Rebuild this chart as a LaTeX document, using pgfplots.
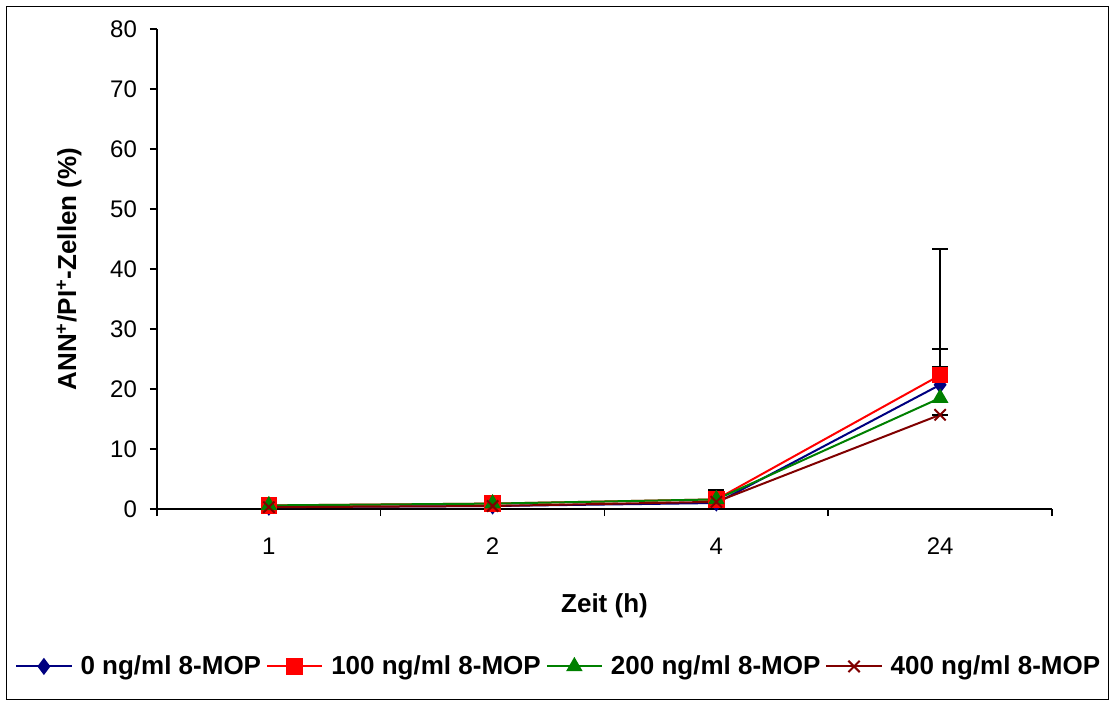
\documentclass[border=0pt]{standalone}
\usepackage{pgfplots}
\pgfplotsset{compat=1.18}
\usepackage{fontspec}
\setmainfont{Liberation Sans}
\definecolor{sNavy}{RGB}{0,0,128}
\definecolor{sRed}{RGB}{255,0,0}
\definecolor{sGreen}{RGB}{0,128,0}
\definecolor{sMaroon}{RGB}{128,0,0}
\begin{document}
\begin{tikzpicture}
\useasboundingbox (-78.5pt,-96.5pt) rectangle (476.5pt,254.5pt);
\begin{axis}[
  at={(0,0)}, anchor=south west,
  scale only axis, width=447.5pt, height=240pt,
  xmin=0, xmax=4, ymin=0, ymax=80,
  axis x line*=bottom, axis y line*=left,
  axis line style={line width=0.75pt},
  xtick={0,1,2,3,4}, xticklabels={},
  extra x ticks={0.5,1.5,2.5,3.5},
  extra x tick labels={1,2,4,24},
  extra x tick style={major tick length=0pt},
  ytick={0,10,...,80},
  tick align=outside, major tick length=3.5pt,
  tick style={black, line width=0.75pt},
  /pgf/number format/assume math mode=true,
  ticklabel style={font=\fontsize{12}{14}\selectfont},
  xticklabel style={yshift=-11pt},
  yticklabel style={xshift=-3pt},
  xlabel={\textbf{Zeit (h)}},
  xlabel style={font=\fontsize{13}{15}\selectfont, yshift=-9pt},
  ylabel={\textbf{ANN\textsuperscript{+}/PI\textsuperscript{+}-Zellen (\%)}},
  ylabel style={font=\fontsize{13}{15}\selectfont, yshift=7.5pt},
  legend style={draw=none, fill=none, at={(0.45,-0.328)}, anchor=center,
    font=\bfseries\fontsize{13}{15}\selectfont, column sep=2pt,
    /tikz/every even column/.append style={column sep=0.5pt}},
  legend columns=4,
  legend image code/.code={
    \draw[#1, mark=none] (0cm,0cm) -- (0.97cm,0cm);
    \draw[#1, only marks] plot coordinates {(0.485cm,0cm)};
  },
  every axis plot/.append style={line width=1pt},
  error bars/error bar style={black, line width=1pt},
  error bars/error mark options={black, rotate=90, mark size=4pt, line width=1pt},
]
\addplot[sNavy, mark=diamond*, mark size=3.5pt, mark options={solid, fill=sNavy},
  error bars/.cd, y dir=plus, y explicit]
  coordinates {(0.5,0.3) +- (0,0.2) (1.5,0.5) +- (0,0.2) (2.5,1.0) +- (0,0.5) (3.5,20.7) +- (0,22.6)};
\addlegendentry{0 ng/ml 8-MOP}
\addplot[sRed, mark=square*, mark size=3.6pt, mark options={solid, fill=sRed},
  error bars/.cd, y dir=plus, y explicit]
  coordinates {(0.5,0.6) +- (0,0.2) (1.5,0.9) +- (0,0.3) (2.5,1.6) +- (0,1.6) (3.5,22.3) +- (0,1.4)};
\addlegendentry{100 ng/ml 8-MOP}
\addplot[sGreen, mark=triangle*, mark size=3.8pt, mark options={solid, fill=sGreen},
  error bars/.cd, y dir=plus, y explicit]
  coordinates {(0.5,0.6) +- (0,0.2) (1.5,0.9) +- (0,0.3) (2.5,1.6) +- (0,1.0) (3.5,18.5) +- (0,8.2)};
\addlegendentry{200 ng/ml 8-MOP}
\addplot[sMaroon, mark=x, mark size=4pt, mark options={solid, line width=1pt},
  error bars/.cd, y dir=plus, y explicit]
  coordinates {(0.5,0.3) +- (0,0.2) (1.5,0.5) +- (0,0.2) (2.5,1.2) +- (0,0.5) (3.5,15.7) +- (0,0)};
\addlegendentry{400 ng/ml 8-MOP}
\end{axis}
\draw[black, line width=0.5pt] (-75pt,-95.5pt) rectangle (475.5pt,251pt);
\end{tikzpicture}
\end{document}
